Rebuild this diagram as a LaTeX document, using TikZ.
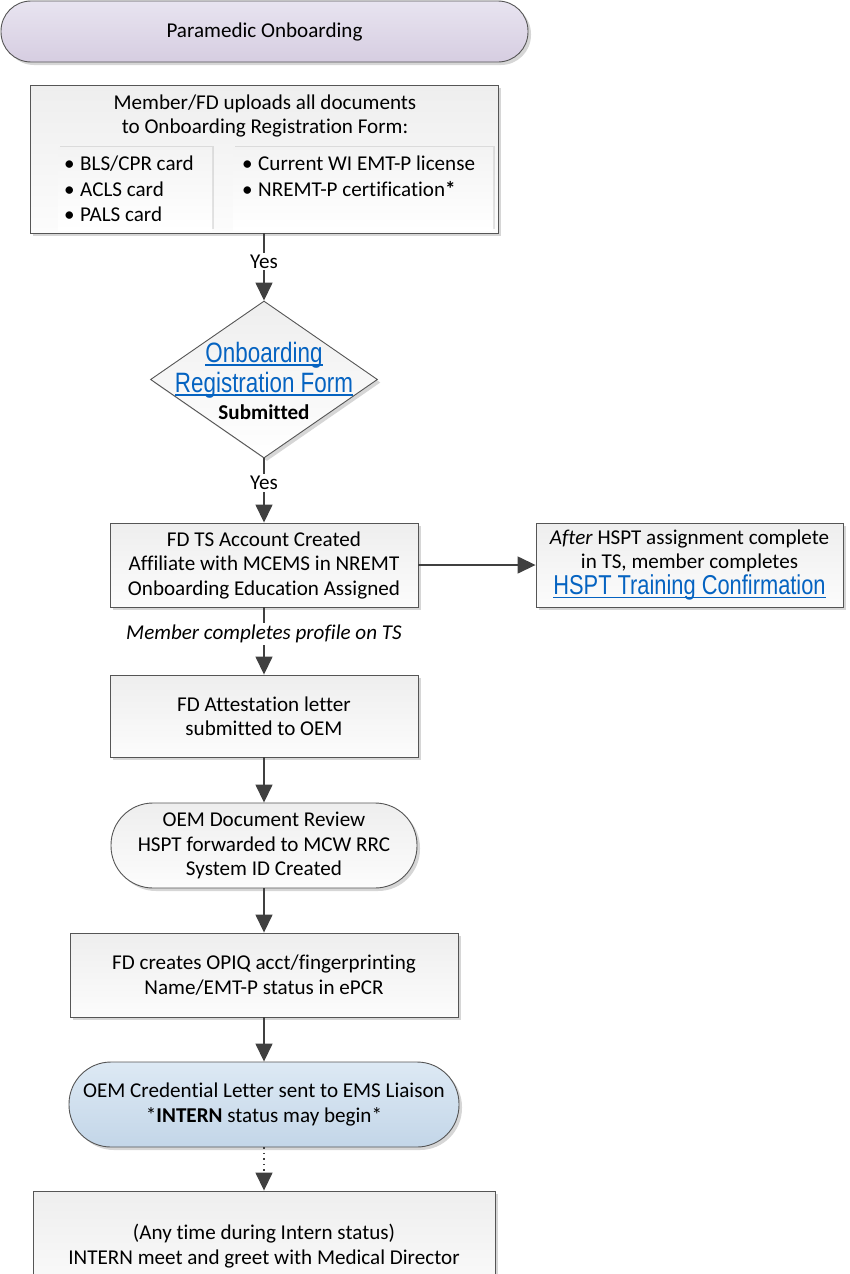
\documentclass[tikz,border=0pt]{standalone}
\usepackage{fontspec}
\setmainfont[Ligatures=NoCommon]{Carlito}
\newfontfamily\linkfont[FakeStretch=0.8]{Liberation Sans}
\usetikzlibrary{shapes.geometric,arrows.meta,shadows}
\definecolor{linec}{HTML}{404040}
\definecolor{borderc}{HTML}{555555}
\definecolor{linkblue}{HTML}{0563C1}
\definecolor{boxtop}{HTML}{EEEEEE}
\definecolor{boxbot}{HTML}{FCFCFC}
\definecolor{lavtop}{HTML}{E8E4F0}
\definecolor{lavbot}{HTML}{D6CDE1}
\definecolor{bluetop}{HTML}{DDE9F4}
\definecolor{bluebot}{HTML}{C3D6E8}
\newcommand\bodysize{\fontsize{21.1pt}{24.5pt}\selectfont}
\newcommand\listsize{\fontsize{21.1pt}{25.5pt}\selectfont}
\newcommand\linksize{\fontsize{28pt}{30pt}\selectfont}
\newcommand\bul{\makebox[16pt][l]{\textbullet}}
\newcommand\lnk[1]{\textcolor{linkblue}{\setbox0\hbox{#1}\rlap{\rule[-3.5pt]{\wd0}{1.4pt}}\box0}}
\tikzset{
  base/.style={draw=borderc, line width=0.9pt, inner sep=0pt, align=center, font=\bodysize,
    drop shadow={shadow xshift=3pt, shadow yshift=-3pt, fill=black, opacity=0.16}},
  procbox/.style={base, rectangle, top color=boxtop, bottom color=boxbot},
  termbox/.style={base, rectangle},
  subbox/.style={rectangle, inner sep=0pt, top color=boxtop!70, bottom color=white,
    drop shadow={shadow xshift=2pt, shadow yshift=1pt, fill=black, opacity=0.10}},
  txt/.style={inner sep=0pt, font=\bodysize},
  lbl/.style={fill=white, inner sep=2pt, font=\bodysize, text=black},
  conn/.style={draw=linec, line width=1.5pt, -{Triangle[length=18pt,width=17pt]}}
}
\begin{document}
\begin{tikzpicture}[x=1pt,y=-1pt]
\clip (0,0) rectangle (850,1274);
% start terminal
\node[termbox, top color=lavtop, bottom color=lavbot, minimum width=527pt, minimum height=61pt,
  rounded corners=30pt] (start) at (264.5,31.5) {Paramedic Onboarding};
% documents box
\node[procbox, minimum width=468pt, minimum height=148pt] (docs) at (264,159) {};
\node[txt, align=center] (docstitle) at (265,116) {Member/FD uploads all documents\\to Onboarding Registration Form:};
\node[subbox, minimum width=154pt, minimum height=83pt] (subl) at (135,188.5) {};
\node[subbox, minimum width=260pt, minimum height=83pt] (subr) at (363,188.5) {};
\node[txt, anchor=west, align=left, font=\listsize] (listl) at (64,189) {\bul BLS/CPR card\\\bul ACLS card\\\bul PALS card};
\node[txt, anchor=west, align=left, font=\listsize] (listr) at (242,176) {\bul Current WI EMT-P license\\\bul NREMT-P certification\textbf{*}};
% decision
\node[base, diamond, top color=boxtop, bottom color=white, minimum width=227pt, minimum height=157pt] (dia) at (264,379.5) {};
\node[txt, align=center] (diatext) at (264,381) {{\linkfont\linksize\lnk{Onboarding}}\\[3pt]{\linkfont\linksize\lnk{Registration Form}}\\[3pt]\textbf{Submitted}};
% account box
\node[procbox, minimum width=308pt, minimum height=84pt] (acct) at (264,565) {FD TS Account Created\\Affiliate with MCEMS in NREMT\\Onboarding Education Assigned};
\node[procbox, minimum width=307pt, minimum height=84pt] (hspt) at (689.5,565) {\textit{After} HSPT assignment complete\\in TS, member completes\\[1pt]{\linkfont\fontsize{27.3pt}{30pt}\selectfont\lnk{HSPT Training Confirmation}}};
% attestation
\node[procbox, minimum width=308pt, minimum height=82pt] (attest) at (264,716) {FD Attestation letter\\submitted to OEM};
% review terminal
\node[termbox, top color=boxtop, bottom color=boxbot, minimum width=306pt, minimum height=85pt,
  rounded corners=42pt] (review) at (264,845.5) {OEM Document Review\\HSPT forwarded to MCW RRC\\System ID Created};
% OPIQ
\node[procbox, minimum width=388pt, minimum height=84pt] (opiq) at (264,975) {FD creates OPIQ acct/fingerprinting\\Name/EMT-P status in ePCR};
% credential terminal
\node[termbox, top color=bluetop, bottom color=bluebot, minimum width=390pt, minimum height=85pt,
  rounded corners=42pt] (cred) at (264,1104.5) {OEM Credential Letter sent to EMS Liaison\\*\textbf{INTERN} status may begin*};
% intern box
\node[procbox, minimum width=462pt, minimum height=110pt] (intern) at (264,1246) {(Any time during Intern status)\\INTERN meet and greet with Medical Director};
% connectors
\draw[conn] (docs.south) -- node[lbl, pos=0.42] {Yes} (dia.north);
\draw[conn] (dia.south) -- node[lbl, pos=0.38] {Yes} (acct.north);
\draw[conn] (acct.east) -- (hspt.west);
\draw[conn] (acct.south) -- node[lbl, pos=0.4, font=\bodysize\itshape] {Member completes profile on TS} (attest.north);
\draw[conn] (attest.south) -- (review.north);
\draw[conn] (review.south) -- (opiq.north);
\draw[conn] (opiq.south) -- (cred.north);
\draw[conn, dash pattern=on 1.5pt off 4pt] (cred.south) -- (intern.north);
\end{tikzpicture}
\end{document}
